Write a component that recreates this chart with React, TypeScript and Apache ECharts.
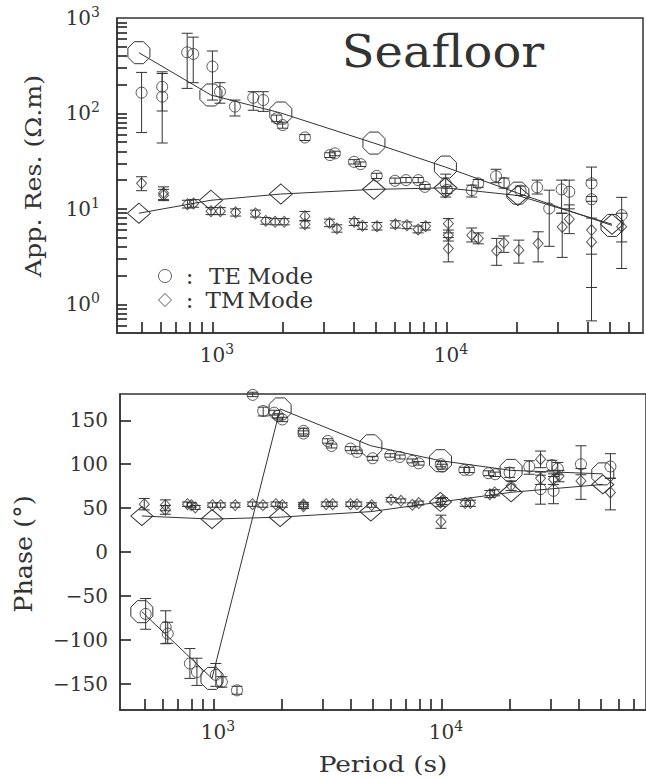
import React, { useEffect, useRef } from 'react';
import * as echarts from 'echarts';

const FONT = '"DejaVu Serif", serif';
const INK = '#333';
const TICK = '#222';
const HOLLOW = 'rgba(255,255,255,0)';

// model response periods (s) and values
const modelPeriods = [485, 985, 1960, 4900, 9900, 20200, 51000];
const teRhoModel = [433, 156, 101, 48.9, 27.4, 14.6, 6.7];
const tmRhoModel = [9.0, 12.3, 14.3, 16.0, 16.6, 13.8, 6.9];
const tePhaseModel = [-68, -144, 163, 121, 104, 93, 89];
const tmPhaseModel = [41, 37.5, 39.7, 46, 57, 68, 77];

// observed: [period (s), value, lower, upper]
const teRhoObs = [
  [498, 165, 63, 269], [610, 190, 106, 273], [610, 150, 49, 262], [780, 437, 183, 692],
  [828, 420, 210, 630], [1000, 310, 138, 451], [1077, 169, 128, 210], [1248, 118, 94, 138],
  [1494, 146, 108, 169], [1648, 138, 105, 169], [1880, 89, 82, 96], [1996, 75.5, 70, 81],
  [2485, 56, 52, 60], [3177, 36.6, 34.5, 38.7], [3335, 38.1, 36, 40.2], [4030, 31.1, 29.5, 32.8],
  [4300, 29.4, 27.8, 31], [5035, 22.2, 20.8, 23.6], [6030, 19.7, 18.5, 21], [6720, 20, 18.8, 21.3],
  [7575, 20, 18.8, 21.3], [8090, 17, 16, 18], [9930, 18.5, 13.3, 23.1], [10050, 15.8, 14.5, 17.2],
  [12830, 15.7, 13.3, 17.7], [13680, 18.5, 16.8, 20.3], [16300, 22, 18.8, 26], [17630, 18.7, 16.5, 21],
  [20740, 15.5, 13.8, 17.3], [24430, 16.8, 14.3, 20], [27500, 10.1, 4.05, 15.7], [31060, 16, 9, 20],
  [33500, 15.1, 10, 20], [41700, 18.5, 12, 27.4], [41700, 12.6, 0.67, 20], [56100, 8.6, 2.37, 13.2],
];
const tmRhoObs = [
  [498, 18.5, 15.5, 21.7], [618, 14.7, 12.5, 17], [618, 13.9, 12.2, 16], [782, 11.2, 10.2, 12.3],
  [831, 11.4, 10.4, 12.5], [986, 9.46, 8.7, 10.3], [1081, 9.46, 8.7, 10.3], [1256, 9.2, 8.4, 10],
  [1527, 8.94, 8.2, 9.7], [1690, 7.48, 6.9, 8.1], [1854, 7.31, 6.8, 7.9], [2028, 7.31, 6.8, 7.9],
  [2485, 8.38, 7.5, 9.4], [2485, 6.9, 6.3, 7.5], [3165, 7.13, 6.5, 7.8], [3405, 6.22, 5.7, 6.8],
  [4036, 7.31, 6.7, 7.9], [4376, 6.63, 6.1, 7.2], [5050, 6.58, 6.0, 7.2], [6050, 6.9, 6.3, 7.5],
  [6780, 6.74, 6.2, 7.3], [7570, 6.08, 5.6, 6.6], [8150, 6.58, 6.0, 7.2], [10190, 7.0, 5.6, 7.9],
  [10190, 5.3, 4.6, 6.0], [10190, 3.84, 2.78, 5.0], [12830, 5.3, 4.5, 6.3], [13680, 4.9, 4.3, 5.6],
  [16400, 3.63, 2.56, 4.9], [17600, 4.4, 3.5, 5.2], [20400, 3.69, 2.7, 4.7], [24660, 4.33, 2.78, 5.75],
  [31250, 6.47, 3.1, 9], [33500, 7.8, 5.5, 11], [41700, 6, 3.35, 13.5], [41700, 4.5, 1.5, 8],
  [56100, 6.5, 4.5, 9],
];
const tePhaseObs = [
  [504, -70.5, -88, -53], [617, -85.6, -104.5, -67], [630, -93, -104, -80], [788, -127, -144, -110],
  [846, -136.7, -152, -121], [1024, -140, -153, -127], [1088, -148, -154, -142], [1268, -157.6, -162, -153],
  [1486, 179, 177, 182], [1652, 160.6, 155, 165], [1846, 158.7, 156, 161.5], [1918, 155, 152.5, 157.5],
  [2005, 151, 148.5, 153.5], [2483, 138, 134.5, 141], [2483, 135, 132, 138], [3170, 126.5, 124, 129],
  [3296, 120.8, 118.5, 123], [3990, 117.8, 115.5, 120], [4260, 114, 112, 116], [4990, 106.8, 104.5, 109],
  [5960, 110, 108, 112], [6570, 108.3, 106, 110.5], [7450, 103.8, 101.5, 106], [7950, 101, 99, 103],
  [9930, 100, 97, 103], [10070, 97.4, 94.5, 100], [12600, 93.5, 90.5, 96.5], [13220, 93.5, 90.5, 96.5],
  [16070, 89.8, 87, 92.5], [17200, 88.6, 86, 91], [19900, 90.5, 85, 96], [24270, 97.4, 88.6, 104],
  [27200, 71.6, 54.5, 87.5], [30500, 98.9, 93, 104.5], [31000, 69.7, 55, 86], [32370, 95, 88, 102],
  [40900, 100, 88, 121], [55100, 97.4, 84, 112],
];
const tmPhaseObs = [
  [497, 54.5, 48, 61], [615, 53.4, 47, 59.4], [615, 48, 43, 53], [769, 54.5, 52, 57],
  [800, 53.4, 51, 56], [832, 50.8, 48.5, 53], [990, 53.4, 51, 56], [1075, 53.4, 51, 56],
  [1245, 53.4, 51, 56], [1482, 54.5, 52, 57], [1648, 53.4, 51, 56], [1876, 54.5, 52, 57],
  [2005, 53.4, 51, 56], [2483, 54, 51.5, 56.5], [2483, 52, 49.5, 54.5], [3120, 54.5, 52, 57],
  [3330, 54.5, 52, 57], [3990, 54.5, 52, 57], [4260, 54.5, 52, 57], [4940, 53.4, 51, 56],
  [6010, 59.4, 57, 62], [6640, 58.3, 56, 60.5], [7450, 53.8, 51.5, 56], [7950, 55.7, 53.5, 58],
  [9900, 56.4, 52, 61], [10070, 58.3, 54, 62], [9950, 34.5, 27, 42], [12700, 55.7, 52, 59],
  [13400, 55.7, 52, 59], [16300, 65.9, 62, 70], [17100, 67.8, 64, 71], [20200, 75.4, 70, 81],
  [27200, 105.7, 96, 115], [27200, 84, 77, 91], [31000, 83, 77, 89], [32800, 86.7, 80, 93],
  [40900, 81, 60, 95], [55100, 67.8, 48, 84],
];

// axis ranges, ticks and labels
const rhoRange = [0.5, 1000];
const phaseRange = [-180, 180];
const periodRangeTop = [391, 69200];
const periodRangeBottom = [389, 78900];
const periodTicks = [500, 600, 700, 800, 900, 1000, 2000, 3000, 4000, 5000, 6000, 7000, 8000, 9000,
  10000, 20000, 30000, 40000, 50000, 60000, 70000];
const periodLabels = [1000, 10000];
const rhoTicks = [0.6, 0.7, 0.8, 0.9, 1, 2, 3, 4, 5, 6, 7, 8, 9, 10, 20, 30, 40, 50, 60, 70, 80, 90,
  100, 200, 300, 400, 500, 600, 700, 800, 900];
const rhoLabels = [1, 10, 100, 1000];
const phaseTicks = [-150, -100, -50, 0, 50, 100, 150];

const OCTAGON = 'path://M96.2,69.1L69.1,96.2L30.9,96.2L3.8,69.1L3.8,30.9L30.9,3.8L69.1,3.8L96.2,30.9Z';

const rich = {
  b: { fontSize: 20, fontFamily: FONT, color: INK, lineHeight: 26 },
  s: { fontSize: 14, fontFamily: FONT, color: INK, verticalAlign: 'top', lineHeight: 14 },
  sp: { fontSize: 14, width: 9 },
};
const powY = (v: number) => `{b|10}{s|${Math.round(Math.log10(v))}}`;
const powX = (v: number) => `{sp| }{b|10}{s|${Math.round(Math.log10(v))}}`;

function errorBars(data: number[][], xi: number, yi: number) {
  return {
    type: 'custom',
    xAxisIndex: xi,
    yAxisIndex: yi,
    silent: true,
    clip: false,
    z: 3,
    data: data.map((d) => [d[0], d[2], d[3]]),
    encode: { x: 0, y: [1, 2] },
    renderItem: (params: any, api: any) => {
      const x = api.value(0);
      const lo = api.coord([x, api.value(1)]);
      const hi = api.coord([x, api.value(2)]);
      const hw = 5.5;
      const style = { stroke: INK, lineWidth: 1, fill: 'none' };
      return {
        type: 'group',
        children: [
          { type: 'line', shape: { x1: lo[0], y1: lo[1], x2: hi[0], y2: hi[1] }, style },
          { type: 'line', shape: { x1: lo[0] - hw, y1: lo[1], x2: lo[0] + hw, y2: lo[1] }, style },
          { type: 'line', shape: { x1: hi[0] - hw, y1: hi[1], x2: hi[0] + hw, y2: hi[1] }, style },
        ],
      };
    },
  };
}

function observed(name: string, data: number[][], xi: number, yi: number, symbol: string, size: any) {
  return {
    type: 'scatter',
    name,
    xAxisIndex: xi,
    yAxisIndex: yi,
    silent: true,
    z: 4,
    data: data.map((d) => [d[0], d[1]]),
    symbol,
    symbolSize: size,
    itemStyle: { color: HOLLOW, borderColor: INK, borderWidth: 1 },
  };
}

function model(values: number[], xi: number, yi: number, symbol: string, size: any) {
  return {
    type: 'line',
    xAxisIndex: xi,
    yAxisIndex: yi,
    silent: true,
    z: 2,
    data: modelPeriods.map((p, i) => [p, values[i]]),
    symbol,
    symbolSize: size,
    showSymbol: true,
    showAllSymbol: true,
    lineStyle: { color: INK, width: 1 },
    itemStyle: { color: HOLLOW, borderColor: INK, borderWidth: 1 },
  };
}

function logX(gridIndex: number, range: number[]) {
  return {
    type: 'log',
    logBase: 10,
    gridIndex,
    min: range[0],
    max: range[1],
    z: 10,
    axisLine: { show: true, onZero: false, lineStyle: { color: INK, width: 1.5 } },
    axisTick: { show: true, inside: true, length: 11, customValues: periodTicks, lineStyle: { color: TICK, width: 1.6 } },
    minorTick: { show: false },
    splitLine: { show: false },
    axisLabel: { customValues: periodLabels, formatter: powX, rich, margin: 9, color: INK, fontFamily: FONT },
  };
}

export default function App() {
  const ref = useRef<HTMLDivElement>(null);
  useEffect(() => {
    if (!ref.current) return;
    const chart = echarts.init(ref.current, undefined, { renderer: 'svg' });
    chart.setOption({
      animation: false,
      backgroundColor: '#ffffff',
      grid: [
        { left: 117, top: 18, width: 526, height: 315, show: true, borderColor: INK, borderWidth: 1.5 },
        { left: 120, top: 394, width: 540, height: 316, show: true, borderColor: INK, borderWidth: 1.5 },
      ],
      xAxis: [logX(0, periodRangeTop), logX(1, periodRangeBottom)],
      yAxis: [
        {
          type: 'log',
          logBase: 10,
          gridIndex: 0,
          min: rhoRange[0],
          max: rhoRange[1],
          z: 10,
          axisLine: { show: true, onZero: false, lineStyle: { color: INK, width: 1.5 } },
          axisTick: { show: true, inside: true, length: 10, customValues: rhoTicks, lineStyle: { color: TICK, width: 1.6 } },
          minorTick: { show: false },
          splitLine: { show: false },
          axisLabel: { customValues: rhoLabels, formatter: powY, rich, margin: 17, color: INK, fontFamily: FONT },
        },
        {
          type: 'value',
          gridIndex: 1,
          min: phaseRange[0],
          max: phaseRange[1],
          z: 10,
          axisLine: { show: true, onZero: false, lineStyle: { color: INK, width: 1.5 } },
          axisTick: { show: true, inside: true, length: 11, customValues: phaseTicks, lineStyle: { color: TICK, width: 1.6 } },
          splitLine: { show: false },
          axisLabel: {
            customValues: phaseTicks,
            formatter: (v: number) => (v < 0 ? '\u2212' + Math.abs(v) : String(v)),
            margin: 12,
            color: INK,
            fontFamily: FONT,
            fontSize: 20,
          },
        },
      ],
      legend: {
        show: true,
        orient: 'vertical',
        left: 153,
        top: 259,
        itemWidth: 13,
        itemHeight: 13,
        itemGap: 0,
        selectedMode: false,
        data: [
          { name: 'TE Mode', icon: 'circle', itemStyle: { color: HOLLOW, borderColor: INK, borderWidth: 1 } },
          { name: 'TM Mode', icon: 'diamond', itemStyle: { color: HOLLOW, borderColor: INK, borderWidth: 1 } },
        ],
        formatter: (name: string) => `{c|:}{t|${name.split(' ')[0]}}{m|${name.split(' ')[1]}}`,
        textStyle: {
          color: INK,
          fontFamily: FONT,
          fontSize: 23,
          lineHeight: 24,
          rich: {
            c: { fontSize: 23, fontFamily: FONT, color: INK, width: 26, align: 'center' },
            t: { fontSize: 23, fontFamily: FONT, color: INK, width: 45 },
            m: { fontSize: 23, fontFamily: FONT, color: INK },
          },
        },
      },
      graphic: [
        {
          type: 'text', x: 443, y: 52, scaleX: 1.09,
          style: { text: 'Seafloor', fontSize: 44, fontFamily: FONT, fill: INK, align: 'center', verticalAlign: 'middle' },
        },
        {
          type: 'text', x: 33, y: 176, rotation: Math.PI / 2, scaleX: 1.1,
          style: { text: 'App. Res. (\u03A9.m)', fontSize: 23, fontFamily: FONT, fill: INK, align: 'center', verticalAlign: 'middle' },
        },
        {
          type: 'text', x: 24, y: 554, rotation: Math.PI / 2, scaleX: 1.06,
          style: { text: 'Phase (\u00B0)', fontSize: 24, fontFamily: FONT, fill: INK, align: 'center', verticalAlign: 'middle' },
        },
        {
          type: 'text', x: 383, y: 764, scaleX: 1.15,
          style: { text: 'Period (s)', fontSize: 23, fontFamily: FONT, fill: INK, align: 'center', verticalAlign: 'middle' },
        },
      ],
      series: [
        model(teRhoModel, 0, 0, OCTAGON, 22),
        model(tmRhoModel, 0, 0, 'diamond', [23, 20]),
        errorBars(teRhoObs, 0, 0),
        errorBars(tmRhoObs, 0, 0),
        observed('TE Mode', teRhoObs, 0, 0, 'circle', 11),
        observed('TM Mode', tmRhoObs, 0, 0, 'diamond', [10, 11]),
        model(tePhaseModel, 1, 1, OCTAGON, 22),
        model(tmPhaseModel, 1, 1, 'diamond', [22, 19]),
        errorBars(tePhaseObs, 1, 1),
        errorBars(tmPhaseObs, 1, 1),
        observed('TE Mode', tePhaseObs, 1, 1, 'circle', 11),
        observed('TM Mode', tmPhaseObs, 1, 1, 'diamond', [10, 11]),
      ],
    });
    return () => chart.dispose();
  }, []);
  return (
    <div
      ref={ref}
      style={{ position: 'absolute', left: 0, top: 0, width: 646, height: 778, background: '#fff' }}
    />
  );
}
